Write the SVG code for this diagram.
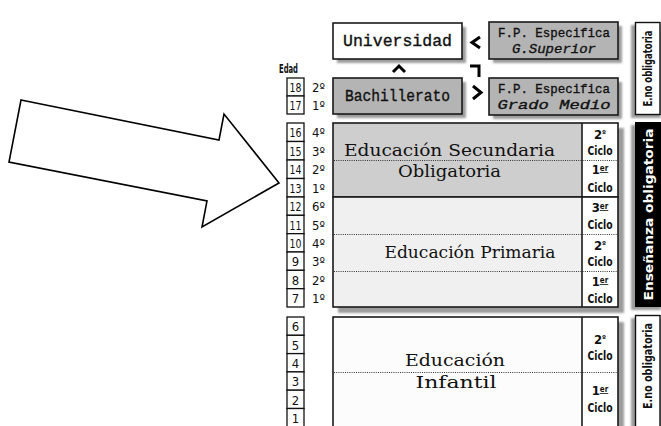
<svg xmlns="http://www.w3.org/2000/svg" width="661" height="426" viewBox="0 0 661 426">
<defs>
<filter id="blur" x="-10%" y="-10%" width="130%" height="130%"><feGaussianBlur stdDeviation="1.2"/></filter>
<style>
.sh{fill:#9c9c9c;filter:url(#blur)}
.box{stroke:#1a1a1a;stroke-width:1.6}
.w{fill:#ffffff}
.g{fill:#b4b4b4}
.mono{font-family:"Liberation Mono","DejaVu Sans Mono",monospace;font-size:16px;fill:#111;stroke:#111;stroke-width:0.35}
.fp{font-size:13px}
.it{font-style:italic}
.ser{font-family:"DejaVu Serif","Liberation Serif",serif;font-size:16px;fill:#111}
.cond{font-family:"Liberation Sans Narrow","DejaVu Sans Condensed","Liberation Sans",sans-serif;font-stretch:condensed;fill:#111}
.num{font-size:13px}
.cic{font-size:13px;font-weight:bold}
.sup{font-size:8px}
.dot{stroke:#333;stroke-width:1;stroke-dasharray:1 1.2}
.age{fill:#fff;stroke:#111;stroke-width:1.3}
.chev{fill:none;stroke:#000;stroke-width:3}
.vert{font-family:"Liberation Sans Narrow","DejaVu Sans Condensed","Liberation Sans",sans-serif;font-stretch:condensed;font-size:13px;font-weight:bold}
</style>
</defs>
<rect width="661" height="426" fill="#ffffff"/>

<g id="big-arrow">
<polygon points="21,100 219,140 224,114 279,183 202,227 207,201 9,162" fill="#fff" stroke="#000" stroke-width="1.6" stroke-linejoin="miter"/>
</g>

<g id="universidad">
<rect class="sh" x="337" y="27" width="129" height="36"/>
<rect class="box w" x="333" y="23" width="129" height="36"/>
<text class="mono" x="397.5" y="46" text-anchor="middle" textLength="109" lengthAdjust="spacingAndGlyphs">Universidad</text>
</g>

<g id="fp-superior">
<rect class="sh" x="493" y="26" width="129" height="37"/>
<rect class="box g" x="489" y="22" width="129" height="37"/>
<text class="mono fp" x="554" y="37" text-anchor="middle" textLength="112" lengthAdjust="spacingAndGlyphs">F.P. Especifica</text>
<text class="mono fp it" x="554" y="53" text-anchor="middle" textLength="84" lengthAdjust="spacingAndGlyphs">G.Superior</text>
</g>

<g id="bachillerato">
<rect class="sh" x="337" y="82" width="129" height="36"/>
<rect class="box g" x="333" y="78" width="129" height="36"/>
<text class="mono" x="397.5" y="101" text-anchor="middle" textLength="105" lengthAdjust="spacingAndGlyphs">Bachillerato</text>
</g>

<g id="fp-medio">
<rect class="sh" x="493" y="82" width="129" height="37"/>
<rect class="box g" x="489" y="78" width="129" height="37"/>
<text class="mono fp" x="554" y="93" text-anchor="middle" textLength="112" lengthAdjust="spacingAndGlyphs">F.P. Especifica</text>
<text class="mono fp it" x="554" y="109" text-anchor="middle" textLength="113" lengthAdjust="spacingAndGlyphs">Grado Medio</text>
</g>

<g id="connectors">
<polyline class="chev" points="480,37 472,42.5 480,48"/>
<polyline class="chev" points="393,72 399,66 405,72"/>
<polyline class="chev" points="470,66 479,66 479,77"/>
<polyline class="chev" points="473,86 481,92.5 473,99"/>
</g>

<g id="edades">
<text class="cond" x="279" y="73" font-size="12" font-weight="bold" textLength="19" lengthAdjust="spacingAndGlyphs">Edad</text>
<rect class="age" x="287" y="78" width="17" height="18"/><text class="cond num" x="295.5" y="92" text-anchor="middle" textLength="12" lengthAdjust="spacingAndGlyphs">18</text><text class="cond num" x="312" y="92">2º</text>
<rect class="age" x="287" y="96" width="17" height="18"/><text class="cond num" x="295.5" y="110" text-anchor="middle" textLength="12" lengthAdjust="spacingAndGlyphs">17</text><text class="cond num" x="312" y="110">1º</text>

<rect class="age" x="287" y="123" width="17" height="18.5"/><text class="cond num" x="295.5" y="137" text-anchor="middle" textLength="12" lengthAdjust="spacingAndGlyphs">16</text><text class="cond num" x="312" y="137">4º</text>
<rect class="age" x="287" y="141.5" width="17" height="18.5"/><text class="cond num" x="295.5" y="155.5" text-anchor="middle" textLength="12" lengthAdjust="spacingAndGlyphs">15</text><text class="cond num" x="312" y="155.5">3º</text>
<rect class="age" x="287" y="160" width="17" height="18.5"/><text class="cond num" x="295.5" y="174" text-anchor="middle" textLength="12" lengthAdjust="spacingAndGlyphs">14</text><text class="cond num" x="312" y="174">2º</text>
<rect class="age" x="287" y="178.5" width="17" height="18.5"/><text class="cond num" x="295.5" y="192.5" text-anchor="middle" textLength="12" lengthAdjust="spacingAndGlyphs">13</text><text class="cond num" x="312" y="192.5">1º</text>

<rect class="age" x="287" y="197" width="17" height="18.33"/><text class="cond num" x="295.5" y="211" text-anchor="middle" textLength="12" lengthAdjust="spacingAndGlyphs">12</text><text class="cond num" x="312" y="211">6º</text>
<rect class="age" x="287" y="215.33" width="17" height="18.33"/><text class="cond num" x="295.5" y="229.5" text-anchor="middle" textLength="12" lengthAdjust="spacingAndGlyphs">11</text><text class="cond num" x="312" y="229.5">5º</text>
<rect class="age" x="287" y="233.67" width="17" height="18.33"/><text class="cond num" x="295.5" y="247.5" text-anchor="middle" textLength="12" lengthAdjust="spacingAndGlyphs">10</text><text class="cond num" x="312" y="247.5">4º</text>
<rect class="age" x="287" y="252" width="17" height="18.33"/><text class="cond num" x="295.5" y="266" text-anchor="middle">9</text><text class="cond num" x="312" y="266">3º</text>
<rect class="age" x="287" y="270.33" width="17" height="18.33"/><text class="cond num" x="295.5" y="284.5" text-anchor="middle">8</text><text class="cond num" x="312" y="284.5">2º</text>
<rect class="age" x="287" y="288.67" width="17" height="18.33"/><text class="cond num" x="295.5" y="302.5" text-anchor="middle">7</text><text class="cond num" x="312" y="302.5">1º</text>

<rect class="age" x="287" y="317" width="17" height="18.3"/><text class="cond num" x="295.5" y="331" text-anchor="middle">6</text>
<rect class="age" x="287" y="335.3" width="17" height="18.3"/><text class="cond num" x="295.5" y="349.5" text-anchor="middle">5</text>
<rect class="age" x="287" y="353.6" width="17" height="18.3"/><text class="cond num" x="295.5" y="367.5" text-anchor="middle">4</text>
<rect class="age" x="287" y="371.9" width="17" height="18.3"/><text class="cond num" x="295.5" y="386" text-anchor="middle">3</text>
<rect class="age" x="287" y="390.2" width="17" height="18.3"/><text class="cond num" x="295.5" y="404.5" text-anchor="middle">2</text>
<rect class="age" x="287" y="408.5" width="17" height="18.3"/><text class="cond num" x="295.5" y="422.5" text-anchor="middle">1</text>
</g>

<g id="obligatoria-shadow">
<rect class="sh" x="338" y="128" width="286" height="185"/>
<rect class="sh" x="338" y="322" width="286" height="120"/>
</g>

<g id="secundaria">
<rect x="333" y="123" width="249" height="74" fill="#cecece"/>
<rect x="582" y="123" width="36" height="74" fill="#ffffff"/>
<line class="dot" x1="334" y1="160.5" x2="617" y2="160.5"/>
<rect x="333" y="123" width="285" height="74" fill="none" stroke="#1a1a1a" stroke-width="1.6"/>
<line x1="582" y1="123" x2="582" y2="197" stroke="#1a1a1a" stroke-width="1.6"/>
<text class="ser" x="449.5" y="156" text-anchor="middle" textLength="211" lengthAdjust="spacingAndGlyphs">Educación  Secundaria</text>
<text class="ser" x="449.5" y="177" text-anchor="middle" textLength="103" lengthAdjust="spacingAndGlyphs">Obligatoria</text>
<text class="cond cic" x="600" y="139" text-anchor="middle">2<tspan class="sup" dy="-3">º</tspan></text>
<text class="cond cic" x="600" y="155" text-anchor="middle" textLength="25" lengthAdjust="spacingAndGlyphs">Ciclo</text>
<text class="cond cic" x="600" y="174" text-anchor="middle">1<tspan class="sup" dy="-3" text-decoration="underline">er</tspan></text>
<text class="cond cic" x="600" y="192" text-anchor="middle" textLength="25" lengthAdjust="spacingAndGlyphs">Ciclo</text>
</g>

<g id="primaria">
<rect x="333" y="197" width="249" height="110" fill="#f0f0f0"/>
<rect x="582" y="197" width="36" height="110" fill="#ffffff"/>
<line class="dot" x1="334" y1="234.5" x2="617" y2="234.5"/>
<line class="dot" x1="334" y1="271.5" x2="617" y2="271.5"/>
<rect x="333" y="197" width="285" height="110" fill="none" stroke="#1a1a1a" stroke-width="1.6"/>
<line x1="582" y1="197" x2="582" y2="307" stroke="#1a1a1a" stroke-width="1.6"/>
<text class="ser" x="470" y="258" text-anchor="middle" textLength="171" lengthAdjust="spacingAndGlyphs">Educación Primaria</text>
<text class="cond cic" x="600" y="212" text-anchor="middle">3<tspan class="sup" dy="-3" text-decoration="underline">er</tspan></text>
<text class="cond cic" x="600" y="229" text-anchor="middle" textLength="25" lengthAdjust="spacingAndGlyphs">Ciclo</text>
<text class="cond cic" x="600" y="250" text-anchor="middle">2<tspan class="sup" dy="-3">º</tspan></text>
<text class="cond cic" x="600" y="266" text-anchor="middle" textLength="25" lengthAdjust="spacingAndGlyphs">Ciclo</text>
<text class="cond cic" x="600" y="286" text-anchor="middle">1<tspan class="sup" dy="-3" text-decoration="underline">er</tspan></text>
<text class="cond cic" x="600" y="303" text-anchor="middle" textLength="25" lengthAdjust="spacingAndGlyphs">Ciclo</text>
</g>

<g id="infantil">
<rect x="333" y="317" width="249" height="120" fill="#fcfcfc"/>
<rect x="582" y="317" width="36" height="120" fill="#ffffff"/>
<line class="dot" x1="334" y1="372.5" x2="617" y2="372.5"/>
<rect x="333" y="317" width="285" height="120" fill="none" stroke="#1a1a1a" stroke-width="1.6"/>
<line x1="582" y1="317" x2="582" y2="437" stroke="#1a1a1a" stroke-width="1.6"/>
<text class="ser" x="455" y="366" text-anchor="middle" textLength="100" lengthAdjust="spacingAndGlyphs">Educación</text>
<text class="ser" x="456" y="388" text-anchor="middle" textLength="81" lengthAdjust="spacingAndGlyphs">Infantil</text>
<text class="cond cic" x="600" y="344" text-anchor="middle">2<tspan class="sup" dy="-3">º</tspan></text>
<text class="cond cic" x="600" y="360" text-anchor="middle" textLength="25" lengthAdjust="spacingAndGlyphs">Ciclo</text>
<text class="cond cic" x="600" y="395" text-anchor="middle">1<tspan class="sup" dy="-3" text-decoration="underline">er</tspan></text>
<text class="cond cic" x="600" y="412" text-anchor="middle" textLength="25" lengthAdjust="spacingAndGlyphs">Ciclo</text>
</g>

<g id="no-obligatoria-sup">
<rect class="sh" x="631" y="25" width="30" height="93"/>
<rect x="635.5" y="22.5" width="24.5" height="92" fill="#fff" stroke="#111" stroke-width="1.4"/>
<text class="vert" transform="translate(652,68.5) rotate(-90)" text-anchor="middle" fill="#111" textLength="76" lengthAdjust="spacingAndGlyphs">E.no obligatoria</text>
</g>

<g id="ensenanza-obligatoria">
<rect class="sh" x="631" y="125" width="30" height="185"/>
<rect x="635" y="122" width="26" height="185" fill="#000"/>
<text class="vert" transform="translate(652.5,214.5) rotate(-90)" text-anchor="middle" fill="#fff" textLength="172" lengthAdjust="spacingAndGlyphs">Enseñanza obligatoria</text>
</g>

<g id="no-obligatoria-inf">
<rect class="sh" x="631" y="318" width="30" height="120"/>
<rect x="635.5" y="315.5" width="24.5" height="120" fill="#fff" stroke="#111" stroke-width="1.4"/>
<text class="vert" transform="translate(652,366) rotate(-90)" text-anchor="middle" fill="#111" textLength="86" lengthAdjust="spacingAndGlyphs">E.no obligatoria</text>
</g>
</svg>
